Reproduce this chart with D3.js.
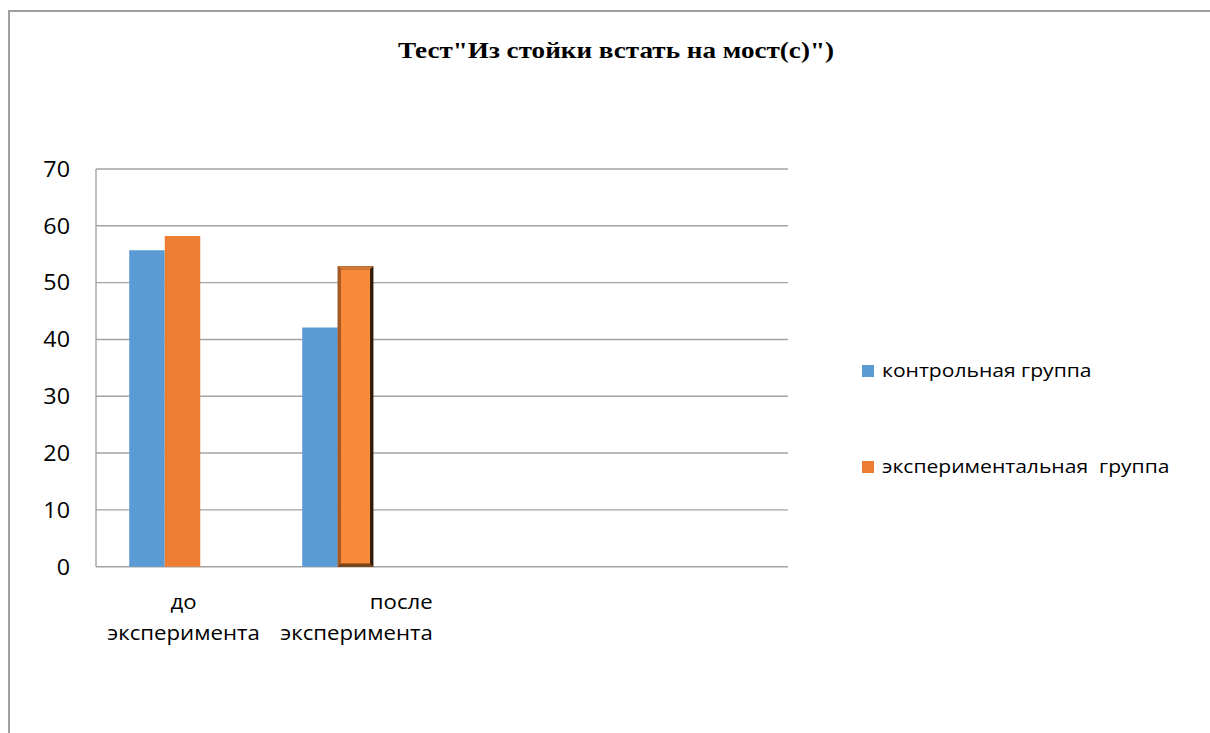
<!DOCTYPE html>
<html>
<head>
<meta charset="utf-8">
<script src="https://cdn.jsdelivr.net/npm/d3@7"></script>
<style>
  html, body { margin: 0; padding: 0; background: #fff; }
  svg { display: block; }
  text { font-family: "Open Sans", "Noto Sans", sans-serif; fill: #000; }
  .title { font-family: "Liberation Serif", "Times New Roman", serif; font-weight: bold; }
</style>
</head>
<body>
<svg id="chart" width="1210" height="733"></svg>
<script>
// ---- data ----
const chartTitle = 'Тест"Из стойки встать на мост(с)")';
const categoryLines = [["до", "эксперимента"], ["после", "эксперимента"], [], []];
const seriesNames = ["контрольная группа", "экспериментальная  группа"];
const controlValues = [55.7, 42.1, null, null];
const experimentalValues = [58.2, 52.9, null, null];
const yTickValues = [0, 10, 20, 30, 40, 50, 60, 70];

// ---- styling / layout ----
const colors = ["#5B9BD5", "#ED7D31"];
const gridColor = "#a3a3a3";
const plot = { left: 96, right: 788, top: 169, bottom: 566.7 };
const barSlots = 3;             // each category reserves room for three bars
const bevelled = { series: 1, category: 1 };
const sx = 1.11;                // labels are set slightly wide
const titleSx = 1.18;

const svg = d3.select("#chart");

// places a horizontally widened text at (x, y)
function wideText(parent, x, y, str, size, anchor, stretch) {
  return parent.append("text")
    .attr("transform", `translate(${x},${y}) scale(${stretch},1)`)
    .attr("text-anchor", anchor)
    .attr("font-size", size)
    .style("white-space", "pre")
    .text(str);
}

// outer chart frame
svg.append("rect")
  .attr("x", 9).attr("y", 11)
  .attr("width", 1240).attr("height", 760)
  .attr("fill", "#fff")
  .attr("stroke", "#a0a0a0").attr("stroke-width", 2);

// title
wideText(svg, 616, 58, chartTitle, 23, "middle", titleSx).attr("class", "title");

const x0 = d3.scaleBand()
  .domain(d3.range(categoryLines.length))
  .range([plot.left, plot.right])
  .paddingInner(0.384)
  .paddingOuter(0.192);

const x1 = d3.scaleBand()
  .domain(d3.range(barSlots))
  .range([0, x0.bandwidth()]);

const y = d3.scaleLinear()
  .domain([0, 70])
  .range([plot.bottom, plot.top]);

// gridlines
svg.append("g")
  .selectAll("line")
  .data(yTickValues)
  .join("line")
  .attr("x1", plot.left).attr("x2", plot.right)
  .attr("y1", d => y(d)).attr("y2", d => y(d))
  .attr("stroke", gridColor).attr("stroke-width", 1.4);

// vertical axis line
svg.append("line")
  .attr("x1", plot.left).attr("x2", plot.left)
  .attr("y1", y(70)).attr("y2", y(0))
  .attr("stroke", gridColor).attr("stroke-width", 1.4);

// y tick labels
const tickG = svg.append("g");
yTickValues.forEach(d => wideText(tickG, 70, y(d) + 7.8, String(d), 21, "end", sx));

// bars
const seriesValues = [controlValues, experimentalValues];
const barData = [];
seriesValues.forEach((vals, s) => vals.forEach((v, c) => {
  if (v != null) barData.push({ s, c, v });
}));

const bars = svg.append("g");
barData.forEach(d => {
  const bx = x0(d.c) + x1(d.s);
  const bw = x1.bandwidth();
  const by = y(d.v);
  const bh = y(0) - by;
  if (d.s === bevelled.series && d.c === bevelled.category) {
    const b = 3.2;
    const g = bars.append("g");
    g.append("rect").attr("x", bx).attr("y", by).attr("width", bw).attr("height", bh).attr("fill", "#6b3a14");
    // top edge
    g.append("polygon").attr("points", [[bx, by], [bx + bw, by], [bx + bw - b, by + b], [bx + b, by + b]].join(" ")).attr("fill", "#d07a3a");
    // left edge
    g.append("polygon").attr("points", [[bx, by], [bx + b, by + b], [bx + b, by + bh - b], [bx, by + bh]].join(" ")).attr("fill", "#a85a25");
    // right edge
    g.append("polygon").attr("points", [[bx + bw, by], [bx + bw, by + bh], [bx + bw - b, by + bh - b], [bx + bw - b, by + b]].join(" ")).attr("fill", "#2e1a0a");
    // bottom edge
    g.append("polygon").attr("points", [[bx, by + bh], [bx + b, by + bh - b], [bx + bw - b, by + bh - b], [bx + bw, by + bh]].join(" ")).attr("fill", "#7a4418");
    g.append("rect").attr("x", bx + b).attr("y", by + b).attr("width", bw - 2 * b).attr("height", bh - 2 * b).attr("fill", "#F98A3A");
  } else {
    bars.append("rect")
      .attr("x", bx).attr("y", by)
      .attr("width", bw).attr("height", bh)
      .attr("fill", colors[d.s]);
  }
});

// category labels (two lines each)
const labelG = svg.append("g");
categoryLines.forEach((lines, c) => {
  if (!lines.length) return;
  const cx = x0(c) + x0.bandwidth() / 2 + 1;
  const second = wideText(labelG, cx, 640, lines[1], 20, "middle", sx);
  if (c === 0) {
    wideText(labelG, cx, 609, lines[0], 20, "middle", sx);
  } else {
    // first line of this label sits flush with the right end of the second line
    const w = second.node().getComputedTextLength() * sx;
    wideText(labelG, cx + w / 2, 609, lines[0], 20, "end", sx);
  }
});

// legend
const legend = svg.append("g");
const legendRows = [371, 467];
seriesNames.forEach((name, i) => {
  legend.append("rect")
    .attr("x", 862).attr("y", legendRows[i] - 6)
    .attr("width", 12).attr("height", 12)
    .attr("fill", colors[i]);
  wideText(legend, 882, legendRows[i] + 6, name, 19, "start", sx);
});
</script>
</body>
</html>
